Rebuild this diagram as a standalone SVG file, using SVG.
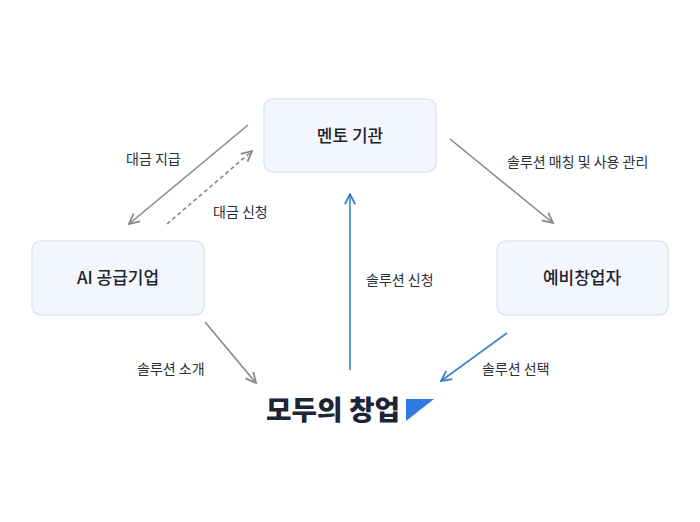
<svg xmlns="http://www.w3.org/2000/svg" width="700" height="522" viewBox="0 0 700 522">
<defs>
<style>
.box{fill:#f3f7fd;stroke:#dbe6f4;stroke-width:1.5}
.nt{font-family:"Noto Sans CJK KR","Noto Sans",sans-serif;font-size:17px;font-weight:500;fill:#1e2229;text-anchor:middle}
.lb{font-family:"Noto Sans CJK KR","Noto Sans",sans-serif;font-size:14px;fill:#2a2e35}
.g{stroke:#888;stroke-width:1.6;fill:none}
.b{stroke:#3a82d0;stroke-width:1.6;fill:none}
</style>
<marker id="ag" viewBox="0 0 10 10" refX="9" refY="5" markerWidth="8" markerHeight="8" orient="auto"><path d="M1,1 L9,5 L1,9" fill="none" stroke="#888" stroke-width="1.4"/></marker>
<marker id="ab" viewBox="0 0 10 10" refX="9" refY="5" markerWidth="8" markerHeight="8" orient="auto"><path d="M1,1 L9,5 L1,9" fill="none" stroke="#3a82d0" stroke-width="1.4"/></marker>
</defs>
<rect width="700" height="522" fill="#fff"/>
<g id="connectors">
<line class="g" x1="248" y1="125" x2="129" y2="224" marker-end="url(#ag)"/>
<line class="g" x1="167" y1="224" x2="252" y2="151" stroke-dasharray="4,3" marker-end="url(#ag)"/>
<line class="g" x1="450" y1="139" x2="553" y2="223" marker-end="url(#ag)"/>
<line class="b" x1="350" y1="370" x2="350" y2="194" marker-end="url(#ab)"/>
<line class="g" x1="205" y1="322" x2="256" y2="383" marker-end="url(#ag)"/>
<line class="b" x1="507" y1="333" x2="441" y2="381" marker-end="url(#ab)"/>
<text class="lb" x="126" y="164">대금 지급</text>
<text class="lb" x="213" y="217">대금 신청</text>
<text class="lb" x="507" y="167">솔루션 매칭 및 사용 관리</text>
<text class="lb" x="366" y="285">솔루션 신청</text>
<text class="lb" x="137" y="374">솔루션 소개</text>
<text class="lb" x="482" y="374">솔루션 선택</text>
</g>
<g id="mentor"><rect class="box" x="264" y="99" width="172" height="73" rx="9"/><text class="nt" x="350" y="142">멘토 기관</text></g>
<g id="ai"><rect class="box" x="32" y="241" width="172" height="74" rx="9"/><text class="nt" x="118" y="284">AI 공급기업</text></g>
<g id="startup"><rect class="box" x="497" y="241" width="171" height="74" rx="9"/><text class="nt" x="582" y="284">예비창업자</text></g>
<g id="logo">
<text x="266" y="420" font-family="Noto Sans CJK KR,sans-serif" font-size="27" font-weight="900" fill="#1b2535" textLength="134" lengthAdjust="spacingAndGlyphs">모두의 창업</text>
<polygon points="406,399 434,399 406,421" fill="#2f7ae0"/>
</g>
</svg>
